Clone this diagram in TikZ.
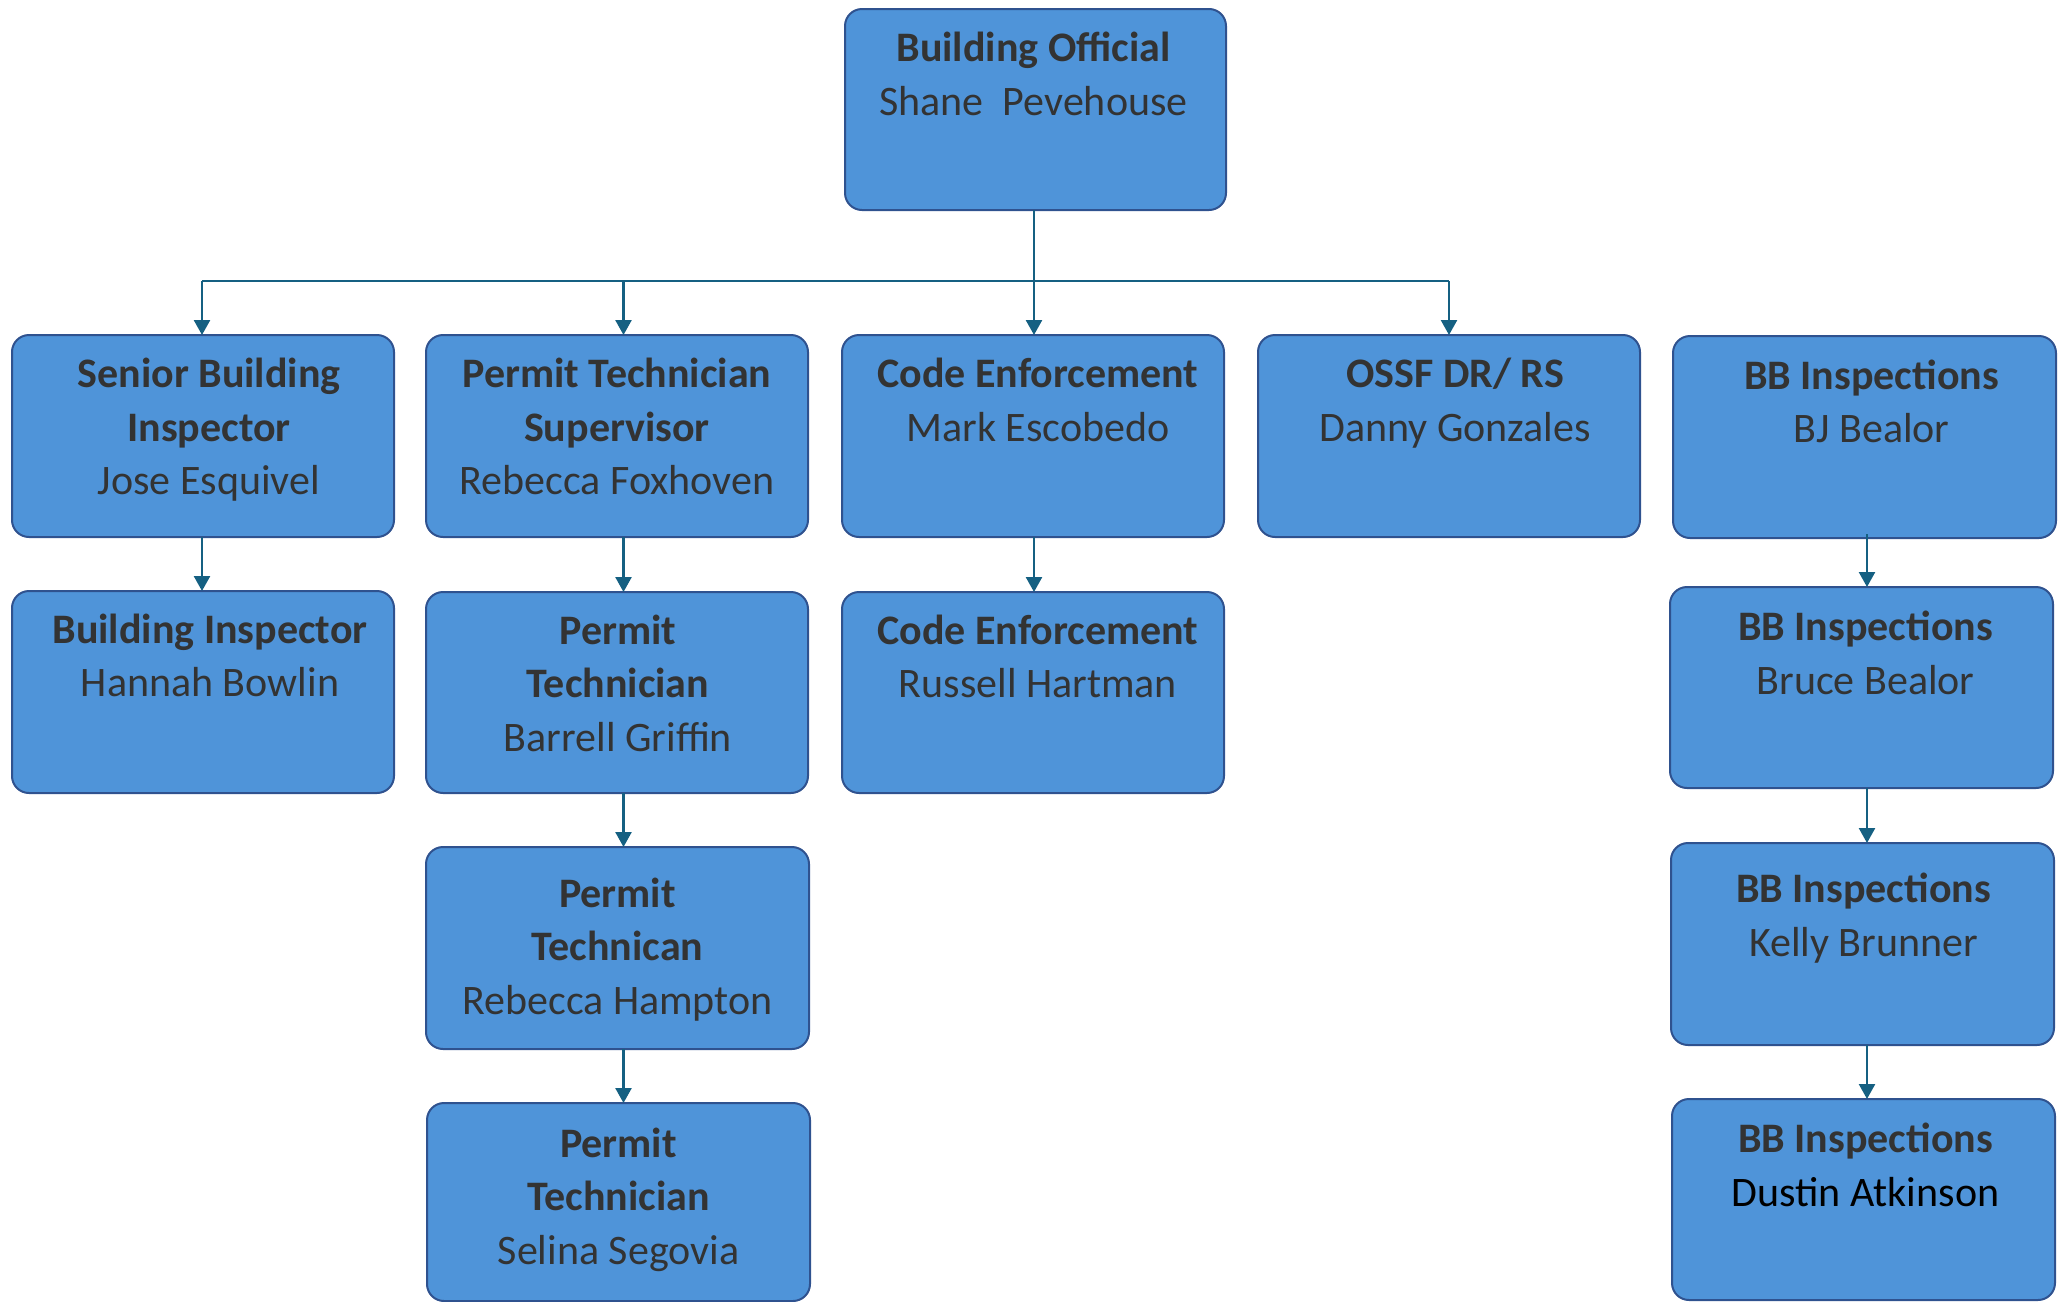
\documentclass[tikz,border=0pt]{standalone}
\usepackage{fontspec}
\setmainfont{Carlito}
\usetikzlibrary{arrows.meta,calc}
\definecolor{boxfill}{HTML}{4F94D9}
\definecolor{boxline}{HTML}{2F528F}
\definecolor{conncol}{HTML}{156082}
\definecolor{txtcol}{HTML}{333333}
\begin{document}
\begin{tikzpicture}[x=0.5pt,y=-0.5pt,
  orgbox/.style={draw=boxline, line width=1pt, fill=boxfill, rounded corners=8.5pt, inner sep=0pt, outer sep=0pt},
  orgtxt/.style={anchor=north, align=center, inner sep=0pt, outer sep=0pt, text=txtcol, font=\fontsize{21}{26.75}\selectfont},
  conn/.style={draw=conncol, line width=1.25pt},
  arr/.style={conn, -{Triangle[width=8pt,length=7.5pt]}}
]
\useasboundingbox (0,0) rectangle (2063,1302);
% boxes
\node[orgbox, minimum width=190.5pt, minimum height=100.5pt] (bo) at (1035.5,109.5) {};
\node[orgbox, minimum width=191pt, minimum height=101pt] (sbi) at (203,436) {};
\node[orgbox, minimum width=191pt, minimum height=101pt] (pts) at (617,436) {};
\node[orgbox, minimum width=191pt, minimum height=101pt] (ce1) at (1033,436) {};
\node[orgbox, minimum width=191pt, minimum height=101pt] (ossf) at (1449,436) {};
\node[orgbox, minimum width=191.5pt, minimum height=101pt] (bj) at (1864.5,437) {};
\node[orgbox, minimum width=191pt, minimum height=101pt] (bi) at (203,692) {};
\node[orgbox, minimum width=191pt, minimum height=100.5pt] (ptb) at (617,692.5) {};
\node[orgbox, minimum width=191pt, minimum height=100.5pt] (ce2) at (1033,692.5) {};
\node[orgbox, minimum width=191.5pt, minimum height=100.5pt] (bruce) at (1861.5,687.5) {};
\node[orgbox, minimum width=191.5pt, minimum height=101pt] (hampton) at (617.5,948) {};
\node[orgbox, minimum width=191.5pt, minimum height=101pt] (kelly) at (1862.5,944) {};
\node[orgbox, minimum width=191.5pt, minimum height=99pt] (selina) at (618.5,1202) {};
\node[orgbox, minimum width=191.5pt, minimum height=100.5pt] (dustin) at (1863.5,1199.5) {};
% texts
\node[orgtxt] (tbo) at ($(bo.north)+(-2,15.5)$) {\strut\textbf{Building Official}\\\strut Shane\ \ Pevehouse};
\node[orgtxt] (tsbi) at ($(sbi.north)+(6,15.5)$) {\strut\textbf{Senior Building}\\\strut\textbf{Inspector}\\\strut Jose Esquivel};
\node[orgtxt] (tpts) at ($(pts.north)+(0,15.5)$) {\strut\textbf{Permit Technician}\\\strut\textbf{Supervisor}\\\strut Rebecca Foxhoven};
\node[orgtxt] (tce1) at ($(ce1.north)+(5,15.5)$) {\strut\textbf{Code Enforcement}\\\strut Mark Escobedo};
\node[orgtxt] (tossf) at ($(ossf.north)+(6,15.5)$) {\strut\textbf{OSSF DR/ RS}\\\strut Danny Gonzales};
\node[orgtxt] (tbj) at ($(bj.north)+(7,16)$) {\strut\textbf{BB Inspections}\\\strut BJ Bealor};
\node[orgtxt] (tbi) at ($(bi.north)+(7,15)$) {\strut\textbf{Building Inspector}\\\strut Hannah Bowlin};
\node[orgtxt] (tptb) at ($(ptb.north)+(1,15)$) {\strut\textbf{Permit}\\\strut\textbf{Technician}\\\strut Barrell Griffin};
\node[orgtxt] (tce2) at ($(ce2.north)+(5,15)$) {\strut\textbf{Code Enforcement}\\\strut Russell Hartman};
\node[orgtxt] (tbruce) at ($(bruce.north)+(4,16.5)$) {\strut\textbf{BB Inspections}\\\strut Bruce Bealor};
\node[orgtxt] (thampton) at ($(hampton.north)+(0,23)$) {\strut\textbf{Permit}\\\strut\textbf{Technican}\\\strut Rebecca Hampton};
\node[orgtxt] (tkelly) at ($(kelly.north)+(1,22.5)$) {\strut\textbf{BB Inspections}\\\strut Kelly Brunner};
\node[orgtxt] (tselina) at ($(selina.north)+(0,17)$) {\strut\textbf{Permit}\\\strut\textbf{Technician}\\\strut Selina Segovia};
\node[orgtxt] (tdustin) at ($(dustin.north)+(2,16.5)$) {\strut\textbf{BB Inspections}\\\strut\textcolor{black}{Dustin Atkinson}};
% column coordinates
\coordinate (colA) at (202,281);
\coordinate (colB) at (623.5,281);
\coordinate (bus) at (1034,281);
\coordinate (colD) at (1449,281);
\coordinate (colE) at (1867,281);
% connectors
\draw[conn] (bo.south -| bus) -- (bus);
\draw[conn] (colA) -- (colD);
\draw[arr] (colA) -- (colA |- sbi.north);
\draw[arr] (colB) -- (colB |- pts.north);
\draw[arr] (bus) -- (bus |- ce1.north);
\draw[arr] (colD) -- (colD |- ossf.north);
\draw[arr] (colA |- sbi.south) -- (colA |- bi.north);
\draw[arr] (colB |- pts.south) -- (colB |- ptb.north);
\draw[arr] (colB |- ptb.south) -- (colB |- hampton.north);
\draw[arr] (colB |- hampton.south) -- (colB |- selina.north);
\draw[arr] (bus |- ce1.south) -- (bus |- ce2.north);
\draw[arr] ($(colE |- bj.south)+(0,-4)$) -- (colE |- bruce.north);
\draw[arr] (colE |- bruce.south) -- (colE |- kelly.north);
\draw[arr] (colE |- kelly.south) -- (colE |- dustin.north);
\end{tikzpicture}
\end{document}
